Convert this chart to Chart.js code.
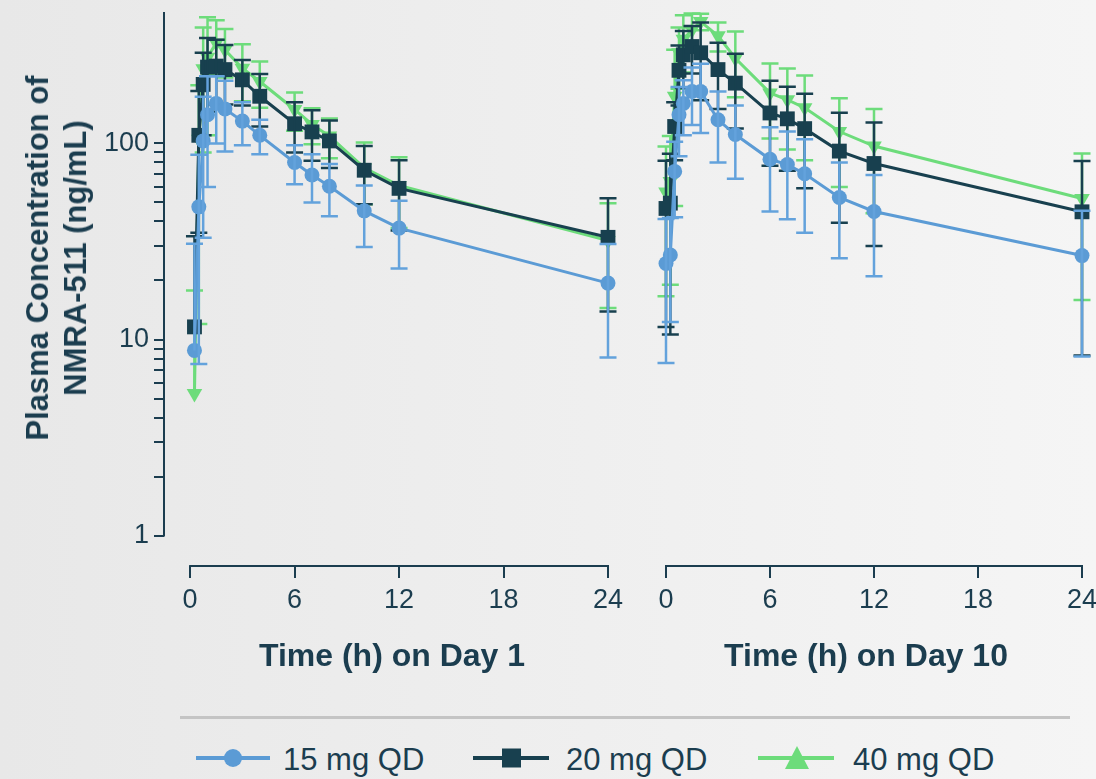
<!DOCTYPE html>
<html>
<head>
<meta charset="utf-8">
<script src="https://cdn.jsdelivr.net/npm/chart.js@4.4.1/dist/chart.umd.min.js"></script>
<style>
  html, body { margin: 0; padding: 0; }
  body {
    width: 1096px; height: 779px; overflow: hidden; position: relative;
    background: linear-gradient(to right, #e8e8e8, #f5f5f5);
    font-family: "Liberation Sans", Arial, sans-serif; color: #1b3d4f;
  }
  #day1 { position: absolute; left: 0; top: 0; }
  #day10 { position: absolute; left: 620px; top: 0; }
  .ytitle {
    position: absolute; left: 57px; top: 258px;
    transform: translate(-50%, -50%) rotate(-90deg);
    font-weight: bold; font-size: 31px; line-height: 38px;
    text-align: center; white-space: nowrap;
  }
  .xtitle {
    position: absolute; top: 639px; transform: translateX(-50%);
    font-weight: bold; font-size: 32px; line-height: 1; white-space: nowrap;
  }
  .sep { position: absolute; left: 180px; top: 716px; width: 890px; height: 3px; background: #c4c4c4; }
  .item { position: absolute; top: 744px; font-size: 31px; line-height: 1; white-space: nowrap; }
  .mark { position: absolute; top: 746px; }
</style>
</head>
<body>
<canvas id="day1" width="640" height="700"></canvas>
<canvas id="day10" width="476" height="700"></canvas>

<div class="ytitle">Plasma Concentration of<br>NMRA-511 (ng/mL)</div>
<div class="xtitle" style="left:392px">Time (h) on Day 1</div>
<div class="xtitle" style="left:866px">Time (h) on Day 10</div>

<div class="sep"></div>
<svg class="mark" style="left:196px" width="74" height="24"><line x1="0" y1="12" x2="74" y2="12" stroke="#5b9bd5" stroke-width="4"/><circle cx="37" cy="12" r="9" fill="#5b9bd5"/></svg>
<div class="item" style="left:283px">15 mg QD</div>
<svg class="mark" style="left:473px" width="76" height="24"><line x1="0" y1="12" x2="76" y2="12" stroke="#18404f" stroke-width="4"/><rect x="29" y="2.5" width="19" height="19" fill="#18404f"/></svg>
<div class="item" style="left:566px">20 mg QD</div>
<svg class="mark" style="left:758px" width="76" height="24"><line x1="0" y1="12" x2="76" y2="12" stroke="#6ddc7b" stroke-width="4"/><polygon points="39,0 51,23 27,23" fill="#6ddc7b"/></svg>
<div class="item" style="left:853px">40 mg QD</div>

<script>
// sampling times (h)
const timesDay1 = [0.25, 0.5, 0.75, 1, 1.5, 2, 3, 4, 6, 7, 8, 10, 12, 24];
const timesDay10 = [0, 0.25, 0.5, 0.75, 1, 1.5, 2, 3, 4, 6, 7, 8, 10, 12, 24];

// mean and SD, ng/mL - Day 1
const mean15Day1 = [8.8, 47.5, 103, 140, 160, 150, 130, 110, 80, 69, 60.5, 45.3, 37, 19.4];
const sd15Day1 = [22, 40, 70, 80, 60, 59, 32, 22, 18, 19, 18, 15.7, 14, 11.3];
const mean20Day1 = [11.6, 110, 200, 245, 248, 238, 211, 174, 126, 114.5, 103, 73, 59, 33.2];
const sd20Day1 = [22, 75, 90, 100, 90, 80, 55, 52, 36, 33, 28, 24, 23, 19.3];
const mean40Day1 = [5.3, 105, 240, 275, 325, 300, 242, 207, 149, 125, 109, 75, 61, 32];
const sd40Day1 = [12.5, 93, 150, 165, 100, 83, 78, 55, 33, 26, 25, 26, 24, 17.5];

// mean and SD, ng/mL - Day 10
const mean15Day10 = [24.4, 27, 72, 140, 160, 184, 184, 132, 111, 83, 78, 70, 53, 45, 26.8];
const sd15Day10 = [16.8, 14.7, 30, 54, 50, 60, 71, 52, 45, 38, 37, 35, 27, 24, 18.6];
const mean20Day10 = [46.6, 49.6, 122, 236, 283, 312, 290, 238, 203, 143, 133.5, 119, 91.4, 79, 44.8];
const sd20Day10 = [35, 39, 40, 80, 91, 85, 124, 88, 84, 66, 61, 60, 52, 49, 36.5];
const mean40Day10 = [56.6, 64, 174, 290, 340, 380, 418, 354, 272, 181, 167, 152, 115, 97, 52.4];
const sd40Day10 = [40, 45, 126, 100, 110, 80, 40, 60, 100, 75, 74, 70, 55, 53, 36.5];

const xTicks = [0, 6, 12, 18, 24];
const yTicks = [1, 2, 3, 4, 5, 6, 7, 8, 9, 10, 20, 30, 40, 50, 60, 70, 80, 90, 100];
const yLabels = [1, 10, 100];

const AXIS = '#1b3d4f';
const BLUE = '#5b9bd5', DARK = '#18404f', GREEN = '#6ddc7b';

Chart.defaults.font.family = "'Liberation Sans', Arial, sans-serif";
Chart.defaults.color = AXIS;

// mean +/- SD whiskers, drawn right after their own dataset
const errorBars = {
  id: 'errorBars',
  afterDatasetDraw(chart, args) {
    const ds = chart.data.datasets[args.index];
    if (!ds.sd) return;
    const { ctx, scales: { x, y } } = chart;
    ctx.save();
    ctx.strokeStyle = ds.errColor;
    ctx.lineWidth = 2.5;
    ds.data.forEach((p, i) => {
      const px = x.getPixelForValue(p.x);
      const hi = y.getPixelForValue(p.y + ds.sd[i]);
      const low = p.y - ds.sd[i];
      const lo = low > 0 ? y.getPixelForValue(low) : y.getPixelForValue(p.y);
      ctx.beginPath();
      ctx.moveTo(px, hi); ctx.lineTo(px, lo);
      ctx.moveTo(px - 8.5, hi); ctx.lineTo(px + 8.5, hi);
      if (low > 0) { ctx.moveTo(px - 8.5, lo); ctx.lineTo(px + 8.5, lo); }
      ctx.stroke();
    });
    ctx.restore();
  }
};

// offset axis lines (only span the ticked range)
const axisLines = {
  id: 'axisLines',
  beforeDatasetsDraw(chart, args, opts) {
    const { ctx, chartArea: a, scales: { x, y } } = chart;
    ctx.save();
    ctx.strokeStyle = AXIS;
    ctx.lineWidth = 2;
    ctx.beginPath();
    ctx.moveTo(x.getPixelForValue(xTicks[0]) - 1, a.bottom);
    ctx.lineTo(x.getPixelForValue(xTicks[xTicks.length - 1]) + 1, a.bottom);
    if (opts.yAxis) {
      ctx.moveTo(a.left, y.getPixelForValue(yTicks[0]) + 1);
      ctx.lineTo(a.left, a.top);
    }
    ctx.stroke();
    ctx.restore();
  }
};

function series(times, means) {
  return times.map((t, i) => ({ x: t, y: means[i] }));
}

function makeChart(id, times, m15, s15, m20, s20, m40, s40, withY, padding) {
  const common = { showLine: true, borderWidth: 3, tension: 0, clip: false };
  return new Chart(document.getElementById(id), {
    type: 'scatter',
    data: {
      datasets: [
        { ...common, label: '15 mg QD', data: series(times, m15), sd: s15, errColor: '#63a2dc',
          borderColor: BLUE, backgroundColor: BLUE, pointStyle: 'circle', pointRadius: 7.5, pointBorderWidth: 0 },
        { ...common, label: '20 mg QD', data: series(times, m20), sd: s20, errColor: DARK,
          borderColor: DARK, backgroundColor: DARK, pointStyle: 'rect', pointRadius: 10.5, pointBorderWidth: 0 },
        { ...common, label: '40 mg QD', data: series(times, m40), sd: s40, errColor: GREEN,
          borderColor: GREEN, backgroundColor: GREEN, pointStyle: 'triangle', pointRotation: 180, pointRadius: 9, pointBorderWidth: 0 }
      ]
    },
    options: {
      responsive: false,
      animation: false,
      devicePixelRatio: 1,
      layout: { padding: padding, autoPadding: false },
      plugins: { legend: { display: false }, tooltip: { enabled: false }, axisLines: { yAxis: withY } },
      scales: {
        x: {
          type: 'linear', min: -1.5, max: 24,
          afterBuildTicks: s => { s.ticks = xTicks.map(v => ({ value: v })); },
          afterFit: s => { s.height = 134; s.paddingLeft = 0; s.paddingRight = 0; },
          grid: { drawOnChartArea: false, drawTicks: true, tickLength: 12, color: AXIS, lineWidth: 2 },
          border: { display: false },
          ticks: { autoSkip: false, maxRotation: 0, padding: 6, font: { size: 27 }, color: AXIS }
        },
        y: {
          type: 'logarithmic', min: 0.72, max: 468, display: withY,
          afterBuildTicks: s => { s.ticks = yTicks.map(v => ({ value: v })); },
          afterFit: s => { s.width = withY ? 164 : 0; s.paddingTop = 0; s.paddingBottom = 0; },
          grid: { drawOnChartArea: false, drawTicks: true, tickLength: 10, color: AXIS, lineWidth: 2 },
          border: { display: false },
          ticks: { autoSkip: false, padding: 5, font: { size: 27 }, color: AXIS,
            callback: v => yLabels.includes(v) ? String(v) : '' }
        }
      }
    },
    plugins: [axisLines, errorBars]
  });
}

makeChart('day1', timesDay1, mean15Day1, sd15Day1, mean20Day1, sd20Day1, mean40Day1, sd40Day1,
  true, { top: 12, right: 32, bottom: 0, left: 0 });
makeChart('day10', timesDay10, mean15Day10, sd15Day10, mean20Day10, sd20Day10, mean40Day10, sd40Day10,
  false, { top: 12, right: 14, bottom: 0, left: 20 });
</script>
</body>
</html>
